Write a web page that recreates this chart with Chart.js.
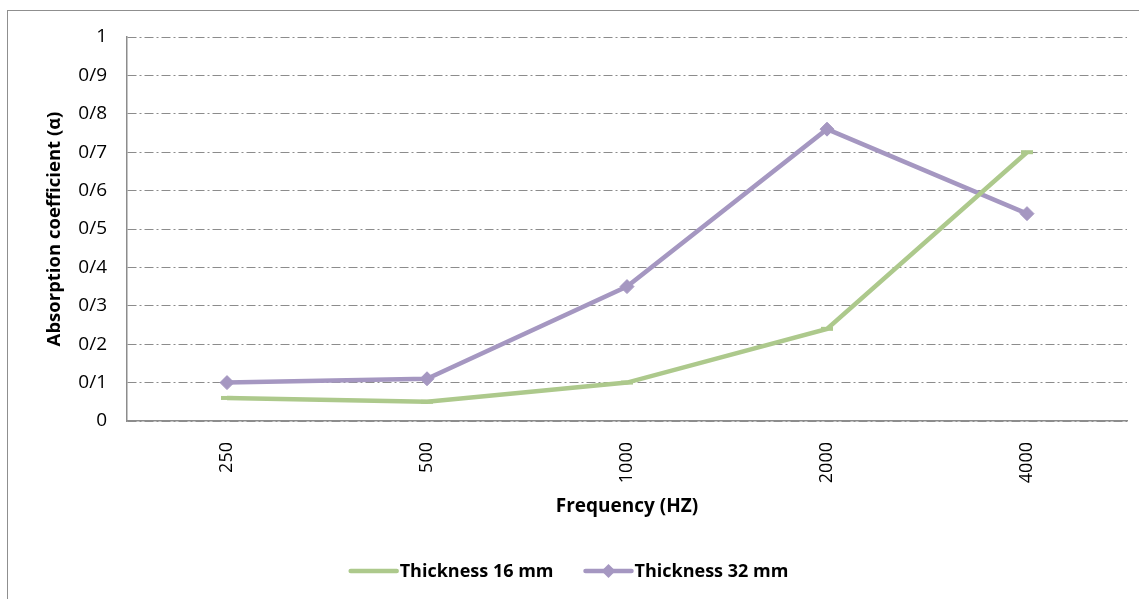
<!DOCTYPE html>
<html>
<head>
<meta charset="utf-8">
<script src="https://cdn.jsdelivr.net/npm/chart.js@4.4.1/dist/chart.umd.min.js"></script>
<style>
html,body{margin:0;padding:0;background:#fff;}
#wrap{position:relative;width:1139px;height:599px;}
</style>
</head>
<body>
<div id="wrap"><canvas id="absChart" width="1139" height="599"></canvas></div>
<script>
const categories=["250","500","1000","2000","4000"];
const thickness16=[0.06,0.05,0.10,0.24,0.70];
const thickness32=[0.10,0.11,0.35,0.76,0.54];
const seriesLabels=["Thickness 16 mm","Thickness 32 mm"];
const yTickLabels={0:"0",1:"0/1",2:"0/2",3:"0/3",4:"0/4",5:"0/5",6:"0/6",7:"0/7",8:"0/8",9:"0/9",10:"1"};

const green="#adc98c",purple="#a597c1",axisGrey="#8c8c8c";
const fontFam='"Open Sans", sans-serif';

// frame round the whole chart, like the Excel chart border
const framePlugin={id:"frame",beforeDraw(c){
  const ctx=c.ctx;ctx.save();ctx.strokeStyle="#8f8f8f";ctx.lineWidth=1;
  ctx.strokeRect(7.5,10.5,1400,1000);ctx.restore();
}};

// legend drawn by hand: line + marker, bold label
const legendPlugin={id:"customLegend",afterDraw(c){
  const ctx=c.ctx;ctx.save();
  ctx.font="bold 18px "+fontFam;ctx.textBaseline="middle";
  const lineW=46,gap=3,itemGap=32,y=571;
  const items=c.data.datasets.map(d=>({d,w:lineW+gap+ctx.measureText(d.label).width}));
  let x=c.width/2-(items.reduce((s,i)=>s+i.w,0)+itemGap*(items.length-1))/2;
  items.forEach(({d,w})=>{
    ctx.strokeStyle=d.borderColor;ctx.lineWidth=4.5;ctx.lineCap="round";
    ctx.beginPath();ctx.moveTo(x,y);ctx.lineTo(x+lineW,y);ctx.stroke();
    if(d.pointStyle==="rectRot"){
      const cx=x+lineW/2,r=7;ctx.fillStyle=d.borderColor;
      ctx.beginPath();ctx.moveTo(cx,y-r);ctx.lineTo(cx+r,y);ctx.lineTo(cx,y+r);ctx.lineTo(cx-r,y);ctx.closePath();ctx.fill();
    }
    ctx.fillStyle="#000";ctx.fillText(d.label,x+lineW+gap,y+1);
    x+=w+itemGap;
  });
  ctx.restore();
}};

new Chart(document.getElementById("absChart"),{
  type:"line",
  data:{labels:categories,datasets:[
    {label:seriesLabels[0],data:thickness16,borderColor:green,backgroundColor:green,borderWidth:4.5,
     pointStyle:"line",pointRadius:6,pointBorderWidth:4,pointHoverRadius:6,tension:0},
    {label:seriesLabels[1],data:thickness32,borderColor:purple,backgroundColor:purple,borderWidth:4.5,
     pointStyle:"rectRot",pointRadius:7,pointHoverRadius:7,pointBorderWidth:1,tension:0}
  ]},
  options:{
    responsive:false,animation:false,
    layout:{padding:{left:0,top:37,right:12,bottom:78}},
    plugins:{legend:{display:false},tooltip:{enabled:false}},
    scales:{
      x:{offset:true,
        grid:{display:false},
        border:{display:true,color:axisGrey,width:1.5},
        ticks:{color:"#000",font:{family:fontFam,size:18},minRotation:90,maxRotation:90,padding:13},
        title:{display:true,text:"Frequency (HZ)",color:"#000",font:{family:fontFam,size:19,weight:"bold"},padding:{top:0,bottom:3}},
        afterFit(s){s.height=100;}
      },
      y:{min:0,max:1,
        grid:{color:axisGrey,lineWidth:1,drawTicks:false},
        border:{display:true,color:axisGrey,width:1.5,dash:[9,3,2,3]},
        ticks:{stepSize:0.1,padding:20,color:"#000",font:{family:fontFam,size:19},
          callback:v=>yTickLabels[Math.round(v*10)]},
        title:{display:true,text:"Absorption coefficient (\u03b1)",color:"#000",font:{family:fontFam,size:18.5,weight:"bold"},padding:{top:44,bottom:0}},
        afterFit(s){s.width=127;}
      }
    }
  },
  plugins:[framePlugin,legendPlugin]
});
</script>
</body>
</html>
